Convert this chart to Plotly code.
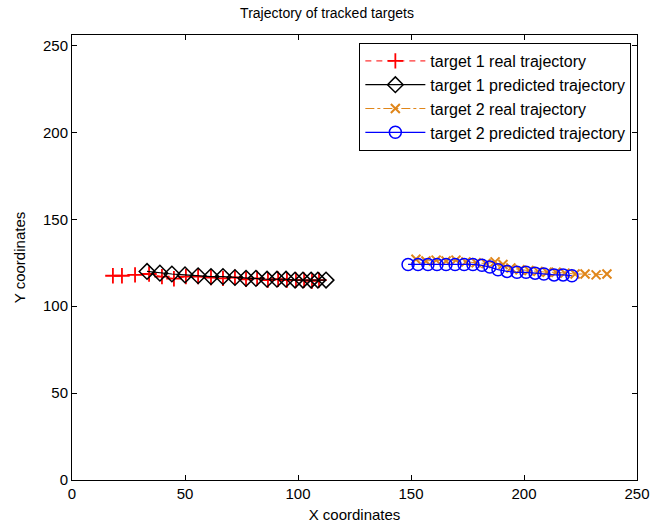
import plotly.graph_objects as go

# Target 1: measured positions (real) and tracker output (predicted)
t1_real_x = [18.1, 22.1, 27.9, 34.1, 39.8, 45.1, 50.4, 55.8, 61.5, 66.8,
             72.1, 77.0, 81.9, 86.7, 91.2, 95.1, 99.1, 102.7, 106.2, 109.3]
t1_real_y = [117.5, 117.5, 118.0, 118.5, 117.0, 115.8, 117.0, 117.0, 116.5, 116.0,
             116.5, 115.5, 116.0, 115.0, 115.5, 115.0, 115.0, 115.0, 114.5, 115.0]

t1_pred_x = [33.2, 38.9, 44.2, 50.0, 55.8, 61.5, 66.8, 72.1, 77.0, 81.4,
             86.3, 90.7, 94.7, 98.7, 102.2, 105.8, 108.8, 112.4]
t1_pred_y = [120.0, 119.0, 118.5, 118.0, 117.5, 117.0, 117.0, 116.5, 116.0, 116.0,
             115.5, 115.5, 115.5, 115.0, 115.0, 115.0, 115.0, 115.0]

# Target 2
t2_real_x = [152.2, 156.6, 161.1, 165.5, 169.9, 174.3, 178.8, 183.2, 187.2, 190.7,
             194.2, 198.2, 202.2, 206.2, 210.2, 214.2, 218.1, 222.6, 227.0, 231.9, 236.7]
t2_real_y = [127.0, 126.0, 126.5, 126.0, 126.5, 125.5, 125.0, 124.5, 125.5, 124.0,
             122.0, 121.0, 120.5, 120.0, 119.5, 119.5, 119.0, 118.5, 118.5, 118.0, 118.5]

t2_pred_x = [148.7, 153.1, 157.5, 161.5, 165.5, 169.5, 173.5, 177.4, 181.4, 184.9,
             188.5, 192.5, 196.9, 200.9, 204.9, 208.8, 213.3, 217.3, 221.2]
t2_pred_y = [124.0, 124.0, 124.0, 124.0, 124.0, 124.0, 124.0, 124.0, 123.5, 122.5,
             121.0, 120.0, 119.5, 119.5, 119.0, 118.5, 118.0, 118.0, 117.5]

x_ticks = [0, 50, 100, 150, 200, 250]
y_ticks = [0, 50, 100, 150, 200, 250]

FONT = "Liberation Sans, Arial, Helvetica, sans-serif"
ORANGE = "#E0861A"

fig = go.Figure()
fig.add_trace(go.Scatter(
    x=t1_real_x, y=t1_real_y, mode="lines+markers",
    name="target 1 real trajectory",
    line=dict(color="#FF0000", width=1, dash="6px,5px"),
    marker=dict(symbol="cross-thin-open", size=11, color="#FF0000",
                line=dict(color="#FF0000", width=1.8)),
))
fig.add_trace(go.Scatter(
    x=t1_pred_x, y=t1_pred_y, mode="lines+markers",
    name="target 1 predicted trajectory",
    line=dict(color="#000000", width=1.2),
    marker=dict(symbol="diamond-open", size=12, color="#000000",
                line=dict(color="#000000", width=1.5)),
))
fig.add_trace(go.Scatter(
    x=t2_real_x, y=t2_real_y, mode="lines+markers",
    name="target 2 real trajectory",
    line=dict(color=ORANGE, width=1, dash="dashdot"),
    marker=dict(symbol="x-thin-open", size=9, color=ORANGE,
                line=dict(color=ORANGE, width=2)),
))
fig.add_trace(go.Scatter(
    x=t2_pred_x, y=t2_pred_y, mode="lines+markers",
    name="target 2 predicted trajectory",
    line=dict(color="#0000FF", width=1.2),
    marker=dict(symbol="circle-open", size=12, color="#0000FF",
                line=dict(color="#0000FF", width=1.5)),
))

axis_common = dict(
    showline=True, linecolor="black", linewidth=1, mirror="ticks",
    ticks="inside", ticklen=5, tickcolor="black", showgrid=False, zeroline=False,
    tickfont=dict(family=FONT, size=15, color="black"),
)

fig.update_layout(
    width=654, height=528,
    margin=dict(l=72, r=17, t=35, b=48),
    paper_bgcolor="white", plot_bgcolor="white",
    font=dict(family=FONT, color="black"),
    title=dict(text="Trajectory of tracked targets", x=0.5, xanchor="center",
               y=0.975, yanchor="middle",
               font=dict(family=FONT, size=14, color="black")),
    xaxis=dict(range=[0, 250], tickvals=x_ticks, automargin=False,
               title=dict(text="X coordinates", standoff=8,
                          font=dict(family=FONT, size=15, color="black")),
               **axis_common),
    yaxis=dict(range=[0, 256], tickvals=y_ticks, automargin=False,
               title=dict(text="Y coordinates", standoff=13,
                          font=dict(family=FONT, size=15, color="black")),
               **axis_common),
    legend=dict(x=0.99, y=0.982, xanchor="right", yanchor="top",
                bgcolor="white", bordercolor="black", borderwidth=1,
                font=dict(family=FONT, size=16, color="black"),
                tracegroupgap=0, itemwidth=60),
    showlegend=True,
)

fig.write_html("out.html")
